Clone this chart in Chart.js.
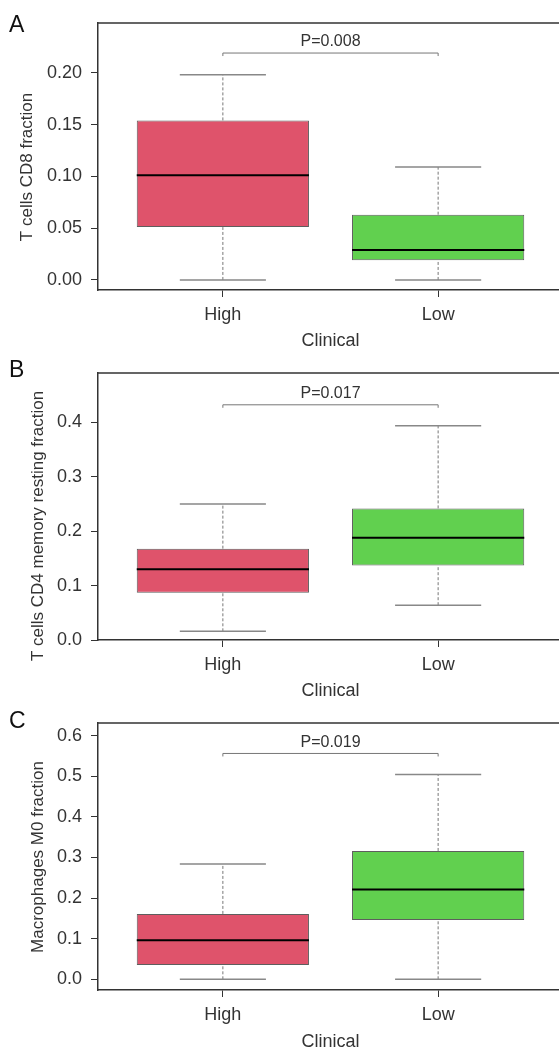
<!DOCTYPE html>
<html>
<head>
<meta charset="utf-8">
<script src="https://cdn.jsdelivr.net/npm/chart.js@4/dist/chart.umd.min.js"></script>
<style>
  body { margin: 0; background: #fff; }
  #wrap { position: relative; width: 559px; height: 1051px; overflow: hidden; background: #fff; }
  #wrap canvas { position: absolute; left: 0; }
</style>
</head>
<body>
<div id="wrap">
  <canvas id="chartA" width="570" height="350" style="top:0px"></canvas>
  <canvas id="chartB" width="570" height="350" style="top:350px"></canvas>
  <canvas id="chartC" width="570" height="351" style="top:700px"></canvas>
</div>
<script>
// -------------------------
// Data (box stats: lower whisker, Q1, median, Q3, upper whisker)
// -------------------------
const groups = ['High', 'Low'];

const cd8High = [0.000, 0.051, 0.101, 0.154, 0.198];
const cd8Low  = [0.000, 0.019, 0.029, 0.063, 0.109];

const cd4High = [0.016, 0.087, 0.130, 0.168, 0.250];
const cd4Low  = [0.064, 0.137, 0.188, 0.242, 0.394];

const m0High = [0.000, 0.035, 0.096, 0.161, 0.284];
const m0Low  = [0.000, 0.146, 0.221, 0.316, 0.504];

const pLabels  = ['P=0.008', 'P=0.017', 'P=0.019'];
const pBracket = [0.219, 0.4325, 0.556];

const yTicksA = [0.00, 0.05, 0.10, 0.15, 0.20];
const yTicksB = [0.0, 0.1, 0.2, 0.3, 0.4];
const yTicksC = [0.0, 0.1, 0.2, 0.3, 0.4, 0.5, 0.6];

const boxColors = ['#DF536B', '#61D04F'];
const textColor = '#333';
const fontFamily = "'Liberation Sans', Arial, Helvetica, sans-serif";

Chart.defaults.font.family = fontFamily;
Chart.defaults.color = textColor;

// -------------------------
// Whiskers, medians, p-value bracket, frame, labels
// -------------------------
const boxExtras = {
  id: 'boxExtras',
  afterDatasetsDraw(chart, args, opts) {
    const { ctx, scales: { x, y } } = chart;
    ctx.save();
    opts.stats.forEach((s, i) => {
      const c = i + 1;
      const cx = x.getPixelForValue(c);
      // dashed whiskers
      ctx.strokeStyle = '#777';
      ctx.lineWidth = 1;
      ctx.setLineDash([3, 2]);
      ctx.beginPath();
      ctx.moveTo(cx, y.getPixelForValue(s[0]));
      ctx.lineTo(cx, y.getPixelForValue(s[1]));
      ctx.moveTo(cx, y.getPixelForValue(s[3]));
      ctx.lineTo(cx, y.getPixelForValue(s[4]));
      ctx.stroke();
      ctx.setLineDash([]);
      // caps
      ctx.strokeStyle = '#888';
      ctx.lineWidth = 1.5;
      ctx.beginPath();
      [s[0], s[4]].forEach(v => {
        const py = y.getPixelForValue(v);
        ctx.moveTo(x.getPixelForValue(c - 0.2), py);
        ctx.lineTo(x.getPixelForValue(c + 0.2), py);
      });
      ctx.stroke();
      // median
      const my = y.getPixelForValue(s[2]);
      ctx.strokeStyle = '#000';
      ctx.lineWidth = 2;
      ctx.beginPath();
      ctx.moveTo(x.getPixelForValue(c - 0.4), my);
      ctx.lineTo(x.getPixelForValue(c + 0.4), my);
      ctx.stroke();
    });

    // p-value bracket
    const by = y.getPixelForValue(opts.bracket);
    const x1 = x.getPixelForValue(1), x2 = x.getPixelForValue(2);
    ctx.strokeStyle = '#777';
    ctx.lineWidth = 1;
    ctx.beginPath();
    ctx.moveTo(x1, by + 3);
    ctx.lineTo(x1, by);
    ctx.lineTo(x2, by);
    ctx.lineTo(x2, by + 3);
    ctx.stroke();
    ctx.fillStyle = textColor;
    ctx.font = '16px ' + fontFamily;
    ctx.textAlign = 'center';
    ctx.textBaseline = 'middle';
    ctx.fillText(opts.pText, (x1 + x2) / 2, by - 11);
    ctx.restore();
  },
  afterDraw(chart, args, opts) {
    const { ctx, chartArea } = chart;
    ctx.save();
    // frame (top and right sides; left/bottom are the axes)
    ctx.strokeStyle = '#333';
    ctx.lineWidth = 1.5;
    ctx.beginPath();
    ctx.moveTo(chartArea.left, chartArea.top);
    ctx.lineTo(chartArea.right, chartArea.top);
    ctx.lineTo(chartArea.right, chartArea.bottom);
    ctx.stroke();

    // y axis title
    ctx.fillStyle = textColor;
    ctx.font = '17px ' + fontFamily;
    ctx.textAlign = 'center';
    ctx.textBaseline = 'middle';
    ctx.translate(opts.titleX, opts.titleY);
    ctx.rotate(-Math.PI / 2);
    ctx.fillText(opts.yTitle, 0, 0);
    ctx.restore();

    // panel letter
    ctx.save();
    ctx.fillStyle = '#111';
    ctx.font = '23px ' + fontFamily;
    ctx.textAlign = 'left';
    ctx.textBaseline = 'alphabetic';
    ctx.fillText(opts.letter, 9, opts.letterY);
    ctx.restore();
  }
};

// -------------------------
// Build one box plot panel
// -------------------------
function makePanel(id, high, low, cfg) {
  const canvas = document.getElementById(id);
  const stats = [high, low];
  return new Chart(canvas, {
    type: 'bar',
    data: {
      datasets: [{
        data: stats.map((s, i) => ({ x: i + 1, y: [s[1], s[3]] })),
        backgroundColor: boxColors,
        borderColor: '#5e5e5e',
        borderWidth: 1,
        borderSkipped: false,
        barPercentage: 0.8,
        categoryPercentage: 1.0
      }]
    },
    options: {
      responsive: false,
      animation: false,
      layout: { padding: { top: 23, right: 7, left: 0, bottom: 0 } },
      plugins: {
        legend: { display: false },
        tooltip: { enabled: false },
        boxExtras: {
          stats: stats,
          bracket: cfg.bracket,
          pText: cfg.pText,
          yTitle: cfg.yTitle,
          titleX: cfg.titleX,
          titleY: cfg.titleY,
          letter: cfg.letter,
          letterY: cfg.letterY
        }
      },
      scales: {
        x: {
          type: 'linear',
          min: 0.42,
          max: 2.58,
          offset: false,
          afterBuildTicks: (scale) => { scale.ticks = groups.map((g, i) => ({ value: i + 1 })); },
          afterFit: (scale) => { scale.height = canvas.height - 290; },
          ticks: {
            padding: 7,
            font: { size: 18 },
            color: textColor,
            callback: (v) => groups[v - 1]
          },
          grid: { offset: false, drawOnChartArea: false, drawTicks: true, tickLength: 7, tickColor: '#333', tickWidth: 1 },
          border: { display: true, color: '#333', width: 1.5 },
          title: {
            display: true,
            text: 'Clinical',
            color: textColor,
            font: { size: 18, lineHeight: 1 },
            padding: { top: 0, bottom: 0 }
          }
        },
        y: {
          min: cfg.yMin,
          max: cfg.yMax,
          afterBuildTicks: (scale) => { scale.ticks = cfg.ticks.map(v => ({ value: v })); },
          afterFit: (scale) => { scale.width = 98; },
          ticks: {
            padding: 9,
            font: { size: 18 },
            color: textColor,
            callback: (v) => Number(v).toFixed(cfg.decimals)
          },
          grid: { drawOnChartArea: false, drawTicks: true, tickLength: 7, tickColor: '#333', tickWidth: 1 },
          border: { display: true, color: '#333', width: 1.5 }
        }
      }
    },
    plugins: [boxExtras]
  });
}

makePanel('chartA', cd8High, cd8Low, {
  yMin: -0.0097, yMax: 0.248, ticks: yTicksA, decimals: 2,
  bracket: pBracket[0], pText: pLabels[0],
  yTitle: 'T cells CD8 fraction', titleX: 27, titleY: 167,
  letter: 'A', letterY: 32
});

makePanel('chartB', cd4High, cd4Low, {
  yMin: 0.0, yMax: 0.491, ticks: yTicksB, decimals: 1,
  bracket: pBracket[1], pText: pLabels[1],
  yTitle: 'T cells CD4 memory resting fraction', titleX: 38, titleY: 176,
  letter: 'B', letterY: 27
});

makePanel('chartC', m0High, m0Low, {
  yMin: -0.0263, yMax: 0.631, ticks: yTicksC, decimals: 1,
  bracket: pBracket[2], pText: pLabels[2],
  yTitle: 'Macrophages M0 fraction', titleX: 38, titleY: 157,
  letter: 'C', letterY: 28
});
</script>
</body>
</html>
